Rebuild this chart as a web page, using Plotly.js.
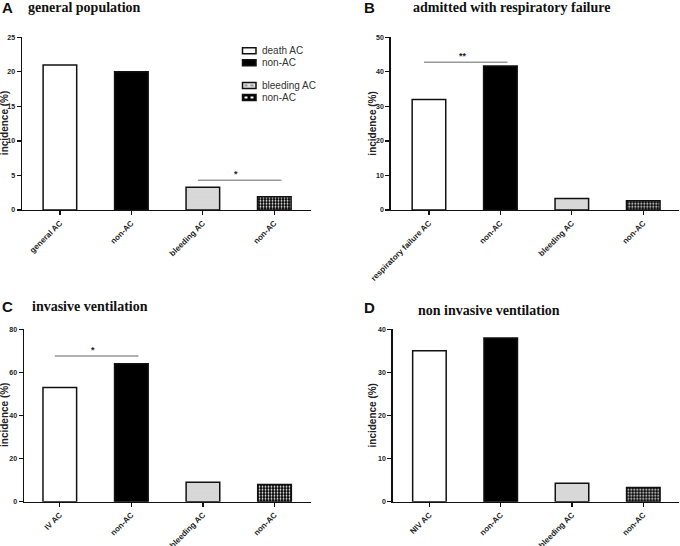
<!DOCTYPE html>
<html>
<head>
<meta charset="utf-8">
<script src="https://cdn.plot.ly/plotly-3.0.1.min.js"></script>
<style>html,body{margin:0;padding:0;background:#fff;}#chart{width:680px;height:546px;}</style>
</head>
<body>
<div id="chart"></div>
<script>
// ---- data ----
const catsA = ['general AC', 'non-AC', 'bleeding AC', 'non-AC'];
const valsA = [21, 20, 3.3, 1.9];
const catsB = ['respiratory failure AC', 'non-AC', 'bleeding AC', 'non-AC'];
const valsB = [32, 41.7, 3.3, 2.7];
const catsC = ['IV AC', 'non-AC', 'bleeding AC', 'non-AC'];
const valsC = [53, 64, 9, 8];
const catsD = ['NIV AC', 'non-AC', 'bleeding AC', 'non-AC'];
const valsD = [35, 38, 4.3, 3.3];
const legendNames = ['death AC', 'non-AC', 'bleeding AC', 'non-AC'];
const panelTitles = ['general population', 'admitted with respiratory failure', 'invasive ventilation', 'non invasive ventilation'];
const panelLetters = ['A', 'B', 'C', 'D'];
const yTitle = 'incidence (%)';
const yMax = [25, 50, 80, 40];
const yStep = [5, 10, 20, 10];
// significance brackets: panel index, from-bar, to-bar, height, label
const sigPanel = [0, 1, 2];
const sigFrom = [2, 0, 0];
const sigTo = [3, 1, 1];
const sigY = [4.3, 42.8, 67.6];
const sigLabel = ['*', '**', '*'];

// ---- styles ----
const cats = [catsA, catsB, catsC, catsD];
const vals = [valsA, valsB, valsC, valsD];
const FONT = 'Liberation Sans, Arial, sans-serif';
const barStyles = [
  {color: '#ffffff'},
  {color: '#000000'},
  {color: '#e0e0e0', pattern: {shape: '.', fgcolor: '#b0b0b0', bgcolor: '#e4e4e4', size: 2, solidity: 0.3}},
  {color: '#000000', pattern: {shape: '.', fgcolor: '#ffffff', bgcolor: '#000000', size: 3, solidity: 0.3}}
];
// legend box looks (fill + inner dotted line colour)
const legendFill = ['#ffffff', '#000000', '#e0e0e0', '#000000'];
const legendDots = [null, null, '#9a9a9a', '#ffffff'];

const xDomains = [[0.0324, 0.457], [0.5746, 0.9985], [0.0353, 0.4574], [0.5775, 0.9985]];
const yDomains = [[0.6154, 0.9317], [0.6154, 0.9317], [0.0811, 0.3969], [0.0811, 0.3969]];
const xRanges = [[-0.53, 3.51], [-0.535, 3.5], [-0.5, 3.51], [-0.515, 3.5]];

const W = 680, H = 546;
const px = v => v / W;
const py = v => 1 - v / H;

const traces = [];
const layout = {
  width: W, height: H,
  margin: {l: 0, r: 0, t: 0, b: 0},
  paper_bgcolor: '#fff', plot_bgcolor: 'rgba(0,0,0,0)',
  barmode: 'overlay',
  showlegend: false,
  shapes: [],
  annotations: []
};

for (let p = 0; p < 4; p++) {
  const sfx = p === 0 ? '' : String(p + 1);
  for (let i = 0; i < 4; i++) {
    const st = barStyles[i];
    const marker = {color: st.color, line: {color: '#111', width: 1.5}};
    if (st.pattern) marker.pattern = st.pattern;
    traces.push({
      type: 'bar', x: [i], y: [vals[p][i]], width: 0.47,
      xaxis: 'x' + sfx, yaxis: 'y' + sfx,
      marker: marker, name: legendNames[i], hoverinfo: 'skip'
    });
  }
  layout['xaxis' + sfx] = {
    domain: xDomains[p], range: xRanges[p], anchor: 'y' + sfx,
    tickmode: 'array', tickvals: [0, 1, 2, 3], ticktext: cats[p], tickangle: -45,
    ticks: 'outside', ticklen: 4, tickwidth: 1.2, tickcolor: '#111',
    showline: true, linecolor: '#111', linewidth: 1.5,
    showgrid: false, zeroline: false, fixedrange: true,
    tickfont: {family: FONT, size: 8, color: '#222', weight: 'bold'}
  };
  layout['yaxis' + sfx] = {
    domain: yDomains[p], range: [0, yMax[p]], dtick: yStep[p], anchor: 'x' + sfx,
    ticks: 'outside', ticklen: 4, tickwidth: 1.2, tickcolor: '#111',
    showline: true, linecolor: '#111', linewidth: 1.5,
    showgrid: false, zeroline: false, fixedrange: true,
    tickfont: {family: FONT, size: 7, color: '#222', weight: 'bold'}
  };
  // y-axis title
  const yd = yDomains[p];
  layout.annotations.push({
    xref: 'paper', yref: 'paper',
    x: px(p % 2 === 0 ? 4.5 : 373), y: (yd[0] + yd[1]) / 2,
    xanchor: 'center', yanchor: 'middle', textangle: -90,
    text: yTitle, showarrow: false,
    font: {family: FONT, size: 10, color: '#222', weight: 'bold'}
  });
}

// significance lines and stars
for (let k = 0; k < sigPanel.length; k++) {
  const p = sigPanel[k];
  const sfx = p === 0 ? '' : String(p + 1);
  layout.shapes.push({
    type: 'line', xref: 'x' + sfx, yref: 'y' + sfx,
    x0: sigFrom[k] - 0.07, x1: sigTo[k] + 0.1, y0: sigY[k], y1: sigY[k],
    line: {color: '#999', width: 1.5}
  });
  layout.annotations.push({
    xref: 'x' + sfx, yref: 'y' + sfx,
    x: (sigFrom[k] + sigTo[k]) / 2 - 0.03, y: sigY[k],
    yanchor: 'bottom', text: sigLabel[k], showarrow: false, yshift: -1,
    font: {family: FONT, size: 9, color: '#222', weight: 'bold'}
  });
}

// legend (panel A)
const legRows = [50.8, 62.8, 85.5, 97.5];
for (let i = 0; i < 4; i++) {
  const cy = legRows[i];
  layout.shapes.push({
    type: 'rect', xref: 'paper', yref: 'paper',
    x0: px(242.5), x1: px(256), y0: py(cy + 3), y1: py(cy - 3),
    fillcolor: legendFill[i], line: {color: '#111', width: 1.5}
  });
  if (legendDots[i]) {
    layout.shapes.push({
      type: 'line', xref: 'paper', yref: 'paper',
      x0: px(244.5), x1: px(254.5), y0: py(cy), y1: py(cy),
      line: {color: legendDots[i], width: 2, dash: 'dot'}
    });
  }
  layout.annotations.push({
    xref: 'paper', yref: 'paper', x: px(260), y: py(cy),
    xanchor: 'left', yanchor: 'middle', text: legendNames[i], showarrow: false,
    font: {family: FONT, size: 10, color: '#333'}
  });
}

// panel letters and titles
const letterPos = [[0, 8], [362, 8], [0, 306], [362, 307]];
const titlePos = [[26, 8, 'left'], [511.7, 8, 'center'], [30, 306, 'left'], [416, 310, 'left']];
for (let p = 0; p < 4; p++) {
  layout.annotations.push({
    xref: 'paper', yref: 'paper', x: px(letterPos[p][0]), y: py(letterPos[p][1]),
    xanchor: 'left', yanchor: 'middle', text: panelLetters[p], showarrow: false,
    font: {family: FONT, size: 15, color: '#111', weight: 'bold'}
  });
  layout.annotations.push({
    xref: 'paper', yref: 'paper', x: px(titlePos[p][0]), y: py(titlePos[p][1]),
    xanchor: titlePos[p][2], yanchor: 'middle', text: panelTitles[p], showarrow: false,
    font: {family: 'Liberation Serif, Times New Roman, serif', size: 14, color: '#111', weight: 'bold'}
  });
}

Plotly.newPlot('chart', traces, layout, {displayModeBar: false, staticPlot: true});
</script>
</body>
</html>
